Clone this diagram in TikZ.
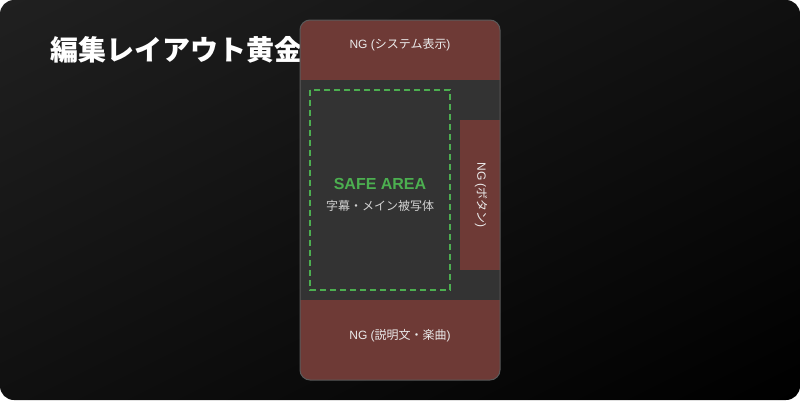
\documentclass[tikz,border=0pt]{standalone}
\usepackage{fontspec}
\setmainfont{Liberation Sans}
\newfontfamily\cjk{Noto Sans CJK JP}
\usetikzlibrary{shadings}
\definecolor{FondoClaro}{RGB}{32,32,32}
\definecolor{FondoMedio}{RGB}{16,16,16}
\definecolor{FondoOscuro}{RGB}{0,0,0}
\definecolor{RojoNG}{RGB}{110,58,54}
\definecolor{GrisPantalla}{RGB}{51,51,51}
\definecolor{GrisBorde}{RGB}{90,90,90}
\definecolor{VerdeSafe}{RGB}{76,175,80}
\definecolor{TextoNG}{RGB}{235,235,235}
\definecolor{TextoSafe}{RGB}{210,210,210}

\begin{document}
\begin{tikzpicture}[x=1pt,y=-1pt,
    textong/.style={text=TextoNG, font=\fontsize{12}{14}\selectfont, inner sep=0pt},
    zona/.style={draw=VerdeSafe, line width=1.6pt, dash pattern=on 6pt off 4pt}]
            \useasboundingbox (0,0) rectangle (800,400);
            %Fondo
            \shade[rounded corners=14pt, upper left=FondoClaro, upper right=FondoMedio,
                lower left=FondoMedio, lower right=FondoOscuro] (0,0) rectangle (800,400);
            \node[anchor=west, inner sep=0pt, text=white, font=\cjk\fontsize{28}{30}\selectfont\bfseries] (titulo) at (50,50) {編集レイアウト黄金};
            %Pantalla 200 x 360
            \begin{scope}
                \clip[rounded corners=10pt] (300,20) rectangle (500,380);
                \fill[GrisPantalla] (300,20) rectangle (500,380);
                \fill[RojoNG] (300,20) rectangle (500,80);
                \fill[RojoNG] (300,300) rectangle (500,380);
                \fill[RojoNG] (460,120) rectangle (500,270);
            \end{scope}
            \draw[GrisBorde, line width=1pt, rounded corners=10pt] (300,20) rectangle (500,380);
            \draw[zona] (310,90) rectangle (450,290);
            \node[textong] (ngarriba) at (400,45) {NG ({\cjk システム表示})};
            \node[textong] (ngabajo) at (400,336) {NG ({\cjk 説明文・楽曲})};
            \node[textong, rotate=-90] (ngboton) at (481,195) {NG ({\cjk ボタン})};
            \node[inner sep=0pt, text=VerdeSafe, font=\fontsize{16}{18}\selectfont\bfseries] (safe) at (380,184) {SAFE AREA};
            \node[inner sep=0pt, text=TextoSafe, font=\cjk\fontsize{12}{14}\selectfont] (sujeto) at (380,206) {字幕・メイン被写体};
        \end{tikzpicture}
\end{document}
